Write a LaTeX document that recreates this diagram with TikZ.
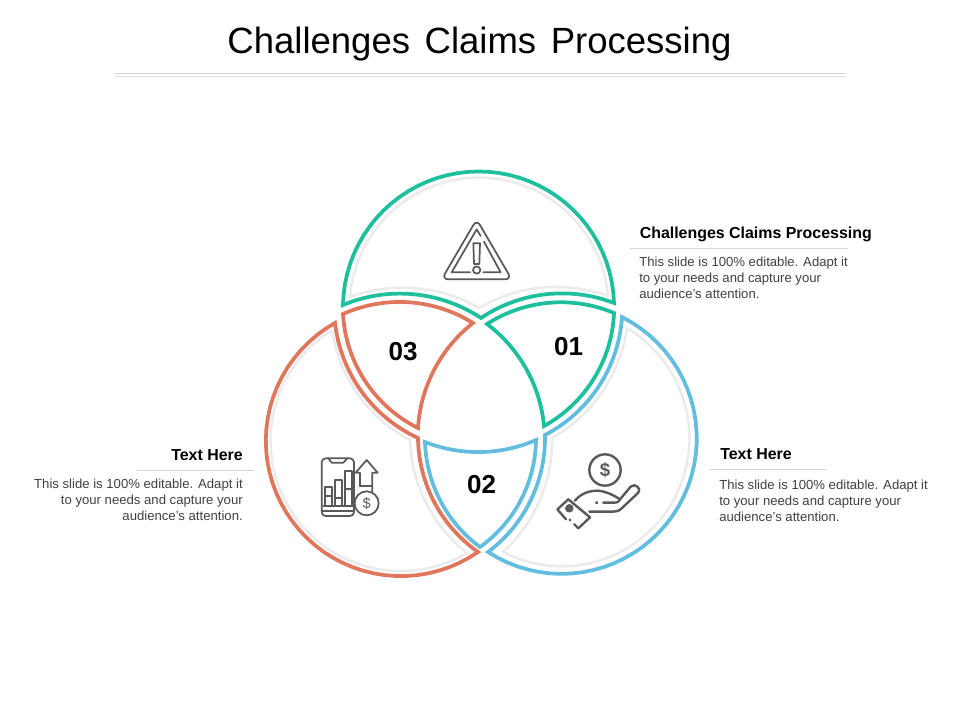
\documentclass[tikz,border=0pt]{standalone}
\usepackage{fontspec}
\setmainfont{Liberation Sans}
\definecolor{cgreen}{HTML}{1DBF9C}
\definecolor{corange}{HTML}{E0775C}
\definecolor{cblue}{HTML}{62BDDF}
\definecolor{cshade}{HTML}{EBEBEB}
\definecolor{cicon}{HTML}{595959}
\definecolor{cbody}{HTML}{404040}
\definecolor{crule}{HTML}{D6D6D6}
\newcommand\mk[8]{%
\pgfmathsetmacro\aA{atan2(#5-#3,#4-#2)}%
\pgfmathsetmacro\aB{atan2(#7-#3,#6-#2)}%
\pgfmathsetmacro\dl{mod(\aB-\aA+720,360)-(#8<0?360:0)}%
\pgfmathsetmacro\rA{veclen(#4-#2,#5-#3)}%
\pgfmathsetmacro\rB{veclen(#6-#2,#7-#3)}%
\expandafter\xdef\csname arc#1\endcsname{-- plot[domain=0.025:0.975,samples=39,variable=\noexpand\tv] ({#2+(\rA+(\rB-\rA)*\noexpand\tv)*cos(\aA+\dl*\noexpand\tv)},{#3+(\rA+(\rB-\rA)*\noexpand\tv)*sin(\aA+\dl*\noexpand\tv)})}%
}
\tikzset{
 outline/.style={line width=2.8pt,line join=miter,miter limit=10},
 shade line/.style={line width=1.9pt,cshade,line join=round},
 icon/.style={line width=1.5pt,cicon,line cap=round,line join=round},
 heading/.style={font=\fontsize{11.95pt}{13pt}\selectfont\bfseries,inner sep=0pt,text=black},
 bodytext/.style={font=\fontsize{9.85pt}{12pt}\selectfont,inner sep=0pt,text=cbody,align=left},
 bodyright/.style={font=\fontsize{9.85pt}{12pt}\selectfont,inner sep=0pt,text=cbody,align=right},
 number/.style={font=\fontsize{19.5pt}{22pt}\selectfont\bfseries,inner sep=0pt,text=black},
 thin rule/.style={line width=0.5pt,color=crule},
}
\begin{document}
\begin{tikzpicture}[x=0.75pt,y=-0.75pt]
\useasboundingbox (0,0) rectangle (960,720);
% title
\node[inner sep=0pt,font=\fontsize{27.4pt}{32pt}\selectfont] (title) at (479.5,44) {Challenges\hspace{0.12em} Claims\hspace{0.12em} Processing};
\coordinate (ra) at (115,73.5); \coordinate (rb) at (846,73.5);
\coordinate (rc) at (115,76.5); \coordinate (rd) at (846,76.5);
\draw[line width=0.9pt,crule] (ra) -- (rb);
\draw[line width=0.9pt,crule!80] (rc) -- (rd);
% shades
\mk{a}{479}{307}{350}{297}{608}{296}{1}
\mk{b}{561}{439}{608}{296}{479}{308}{-1}
\mk{c}{401}{441}{479}{308}{350}{297}{-1}
\draw[shade line] (350,297) \arca -- (608,296) \arcb -- (479,308) \arcc -- cycle;
\mk{a}{401}{441}{332}{330}{467}{553}{-1}
\mk{b}{561}{439}{467}{553}{410}{440}{1}
\mk{c}{479}{307}{410}{440}{332}{330}{1}
\draw[shade line] (332,330) \arca -- (467,553) \arcb -- (410,440) \arcc -- cycle;
\mk{a}{561}{439}{627}{328}{503}{552}{1}
\mk{b}{401}{441}{503}{552}{552}{438}{-1}
\mk{c}{479}{307}{552}{438}{627}{328}{-1}
\draw[shade line] (627,328) \arca -- (503,552) \arcb -- (552,438) \arcc -- cycle;
% top shape
\mk{a}{479}{307}{343}{305}{614}{303}{1}
\mk{b}{561}{439}{614}{303}{481}{318}{-1}
\mk{c}{401}{441}{481}{318}{343}{305}{-1}
\draw[outline,cgreen] (343,305) \arca -- (614,303) \arcb -- (481,318) \arcc -- cycle;
% left shape
\mk{a}{401}{441}{335}{323}{478}{552}{-1}
\mk{b}{561}{439}{478}{552}{418}{438}{1}
\mk{c}{479}{307}{418}{438}{335}{323}{1}
\draw[outline,corange] (335,323) \arca -- (478,552) \arcb -- (418,438) \arcc -- cycle;
% right shape
\mk{a}{561}{439}{622}{317}{488}{552}{1}
\mk{b}{401}{441}{488}{552}{545}{435}{-1}
\mk{c}{479}{307}{545}{435}{622}{317}{-1}
\draw[outline,cblue] (622,317) \arca -- (488,552) \arcb -- (545,435) \arcc -- cycle;
% region 03
\mk{a}{401}{441}{343}{314}{473}{323}{1}
\mk{b}{561}{439}{473}{323}{418}{428}{-1}
\mk{c}{479}{307}{418}{428}{343}{314}{1}
\draw[outline,corange] (343,314) \arca -- (473,323) \arcb -- (418,428) \arcc -- cycle;
% region 01
\mk{a}{561}{439}{487}{324}{614}{313}{1}
\mk{b}{479}{307}{614}{313}{544}{426}{1}
\mk{c}{401}{441}{544}{426}{487}{324}{-1}
\draw[outline,cgreen] (487,324) \arca -- (614,313) \arcb -- (544,426) \arcc -- cycle;
% region 02
\mk{a}{479}{307}{425}{442}{536}{440}{-1}
\mk{b}{401}{441}{536}{440}{480}{547}{1}
\mk{c}{561}{439}{480}{547}{425}{442}{1}
\draw[outline,cblue] (425,442) \arca -- (536,440) \arcb -- (480,547) \arcc -- cycle;
% numbers
\node[number] (n1) at (568.5,347) {01};
\node[number] (n2) at (481.5,484.5) {02};
\node[number] (n3) at (403,351.5) {03};
% warning icon
\begin{scope}[shift={(330,160)},x=0.25pt,y=-0.25pt,icon,line width=1.3pt]
\draw[rounded corners=5pt] (440,178) -- (545,358) -- (335,358) -- cycle;
\draw (452,228) -- (440,208) -- (365,337) -- (420,337);
\draw (462,245) -- (512,337) -- (460,337);
\draw (430,250) -- (450,250) -- (448,312) -- (432,312) -- cycle;
\draw (440,330) circle[radius=11];
\end{scope}
% chart icon
\begin{scope}[shift={(310,450)},x=0.25pt,y=-0.25pt,icon,line width=1.3pt]
\draw[rounded corners=3pt] (35,25) rectangle (132,198);
\draw (55,25) -- (65,38) -- (100,38) -- (112,25);
\draw (35,182) -- (132,182);
\draw (40,167) -- (128,167);
\draw (45,167) -- (45,110) -- (65,110) -- (65,167);
\draw (75,167) -- (75,90) -- (95,90) -- (95,167);
\draw (105,167) -- (105,62) -- (125,62) -- (125,167);
\draw (45,138) -- (65,138) (75,145) -- (95,145) (105,118) -- (125,118);
\draw (150,108) -- (150,68) -- (137,68) -- (170,30) -- (203,68) -- (187,68) -- (187,124);
\draw (150,108) -- (187,108);
\draw[fill=white] (170,160) circle[radius=36];
\node[inner sep=0pt,text=cicon,font=\fontsize{11pt}{12pt}\selectfont] (chartcoin) at (170,160) {\$};
\end{scope}
% hand icon
\begin{scope}[shift={(540,440)},x=0.25pt,y=-0.25pt,icon,line width=1.8pt]
\draw (195,90) circle[radius=47];
\node[inner sep=0pt,text=cicon,font=\fontsize{14pt}{15pt}\selectfont\bfseries] (handcoin) at (195,90) {\$};
\draw (105,182) .. controls (125,158) and (150,152) .. (175,152) .. controls (200,155) and (220,165) .. (240,178) -- (272,140) .. controls (285,128) and (305,145) .. (295,158) -- (245,205) .. controls (235,215) and (225,215) .. (215,215) -- (148,215);
\draw (190,188) -- (222,188) .. controls (232,188) and (238,185) .. (240,178);
\draw[fill=cicon] (170,188) circle[radius=1];
\draw (78,238) -- (52,208) -- (85,178) -- (150,232) -- (115,265) -- (103,253);
\draw[fill=cicon] (88,205) circle[radius=9];
\draw[fill=cicon] (90,240) circle[radius=1];
\end{scope}
% top-right text
\node[heading,anchor=west] (h1) at (639.5,234.5) {Challenges Claims Processing};
\coordinate (l1a) at (630,248.5); \coordinate (l1b) at (848,248.5);
\draw[thin rule] (l1a) -- (l1b);
\node[bodytext,anchor=north west] (b1) at (639,256.5) {This slide is 100\% editable. Adapt it\\to your needs and capture your\\audience's attention.};
% left text
\node[heading,anchor=east] (h2) at (243,455.5) {Text Here};
\coordinate (l2a) at (137,470.5); \coordinate (l2b) at (254,470.5);
\draw[thin rule] (l2a) -- (l2b);
\node[bodyright,anchor=north east] (b2) at (243,479) {This slide is 100\% editable. Adapt it\\to your needs and capture your\\audience's attention.};
% right text
\node[heading,anchor=west] (h3) at (720,454.5) {Text Here};
\coordinate (l3a) at (710,469.5); \coordinate (l3b) at (826,469.5);
\draw[thin rule] (l3a) -- (l3b);
\node[bodytext,anchor=north west] (b3) at (719,480) {This slide is 100\% editable. Adapt it\\to your needs and capture your\\audience's attention.};
\end{tikzpicture}
\end{document}
